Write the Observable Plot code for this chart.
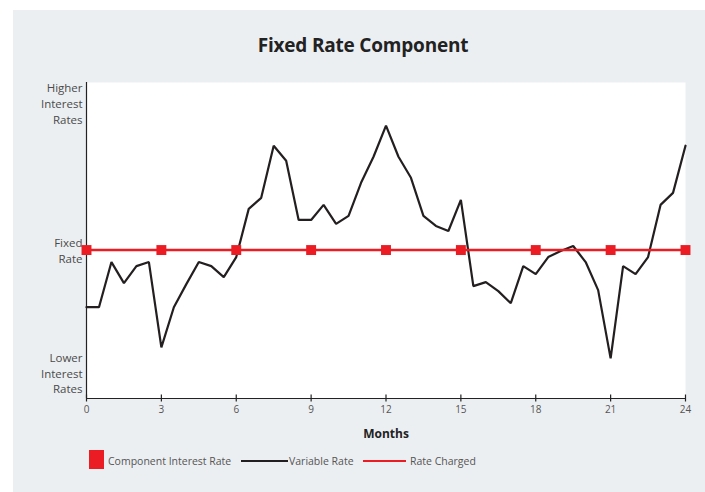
<!DOCTYPE html>
<html>
<head>
<meta charset="utf-8">
<script src="https://cdn.jsdelivr.net/npm/d3@7"></script>
<script src="https://cdn.jsdelivr.net/npm/@observablehq/plot@0.6"></script>
<style>
  html, body { margin: 0; padding: 0; background: #ffffff; }
  body { width: 705px; height: 492px; position: relative; overflow: hidden; font-family: "Open Sans", sans-serif; }
  #panel { position: absolute; left: 13px; top: 10px; width: 692px; height: 482px; background: #eceff2; }
  #title { position: absolute; left: 0; top: 32px; width: 726px; text-align: center; font-weight: 700; font-size: 19px; color: #222; letter-spacing: -0.2px; }
  #chart { position: absolute; left: 0; top: 70px; }
  .leg { position: absolute; font-size: 10.5px; color: #555; line-height: 14px; white-space: nowrap; }
</style>
</head>
<body>
<div id="panel"></div>
<div id="title">Fixed Rate Component</div>
<div id="chart"></div>
<div id="legend"></div>
<script>
// Months (half-month steps)
const months = [0,0.5,1,1.5,2,2.5,3,3.5,4,4.5,5,5.5,6,6.5,7,7.5,8,8.5,9,9.5,10,10.5,11,11.5,12,12.5,13,13.5,14,14.5,15,15.5,16,16.5,17,17.5,18,18.5,19,19.5,20,20.5,21,21.5,22,22.5,23,23.5,24];
// Variable rate relative to fixed rate (0 = fixed rate)
const variableRate = [-5.7,-5.7,-1.2,-3.3,-1.6,-1.2,-9.7,-5.7,-3.4,-1.2,-1.6,-2.7,-0.7,4.1,5.2,10.4,8.9,3.0,3.0,4.5,2.6,3.4,6.7,9.3,12.4,9.3,7.2,3.4,2.4,1.9,5.0,-3.6,-3.2,-4.1,-5.3,-1.6,-2.4,-0.7,-0.1,0.4,-1.2,-4.0,-10.8,-1.6,-2.4,-0.7,4.5,5.7,10.4];
// Component interest rate points (every 3 months)
const componentMonths = [0,3,6,9,12,15,18,21,24];
const componentRate = [0,0,0,0,0,0,0,0,0];
const fixedRate = 0;
// Axis
const xTicks = [0,3,6,9,12,15,18,21,24];
const yDomain = [-14.8, 16.7];
const yTickValues = [14.7, 0, -12.2];
const yTickLabels = ["Higher\nInterest\nRates", "Fixed\nRate", "Lower\nInterest\nRates"];

const variableData = months.map((m, i) => ({month: m, rate: variableRate[i]}));
const componentData = componentMonths.map((m, i) => ({month: m, rate: componentRate[i]}));
const yLabelMap = new Map(yTickValues.map((v, i) => [v, yTickLabels[i]]));

const RED = "#ec1c24";
const BLACK = "#231f20";

const chart = Plot.plot({
  width: 705,
  height: 380,
  marginLeft: 86,
  marginRight: 20,
  marginTop: 12,
  marginBottom: 52,
  style: {background: "transparent", fontFamily: "Open Sans, sans-serif", overflow: "visible"},
  x: {domain: [0, 24]},
  y: {domain: yDomain},
  marks: [
    Plot.frame({fill: "white", stroke: null}),
    Plot.axisY({ticks: yTickValues, tickSize: 0, tickPadding: 4, tickFormat: d => yLabelMap.get(d), fontSize: 11.5, lineHeight: 1.38, fill: "#4a4a4a", label: null}),
    Plot.axisX({ticks: xTicks, tickSize: 7, dy: -3.5, tickFormat: () => "", label: null, stroke: "#222", strokeWidth: 1.2}),
    Plot.axisX({ticks: xTicks, tickSize: 0, tickPadding: 7, fontSize: 10, fill: "#555", label: "Months", labelAnchor: "center", labelOffset: 39, labelArrow: "none"}),
    Plot.ruleX([0], {stroke: "#222", strokeWidth: 1.2}),
    Plot.ruleY([yDomain[0]], {stroke: "#222", strokeWidth: 1.2}),
    Plot.line(variableData, {x: "month", y: "rate", stroke: BLACK, strokeWidth: 2.2, strokeLinejoin: "miter"}),
    Plot.ruleY([fixedRate], {stroke: RED, strokeWidth: 2.4}),
    Plot.dot(componentData, {x: "month", y: "rate", symbol: "square", r: 5.6, fill: RED, stroke: null})
  ]
});
// bold Months label
chart.querySelectorAll("text").forEach(t => { if (t.textContent === "Months") { t.setAttribute("font-weight", "700"); t.setAttribute("font-size", "12"); t.setAttribute("fill", "#222"); } });
document.getElementById("chart").appendChild(chart);

// Legend
const legend = document.getElementById("legend");
legend.innerHTML = `
  <div style="position:absolute;left:89px;top:450px;width:15px;height:19px;background:${RED}"></div>
  <div class="leg" style="left:108px;top:454px">Component Interest Rate</div>
  <div style="position:absolute;left:241px;top:460px;width:47px;height:2px;background:${BLACK}"></div>
  <div class="leg" style="left:289px;top:454px">Variable Rate</div>
  <div style="position:absolute;left:363px;top:460px;width:43px;height:2px;background:${RED}"></div>
  <div class="leg" style="left:410px;top:454px">Rate Charged</div>
`;
</script>
</body>
</html>
